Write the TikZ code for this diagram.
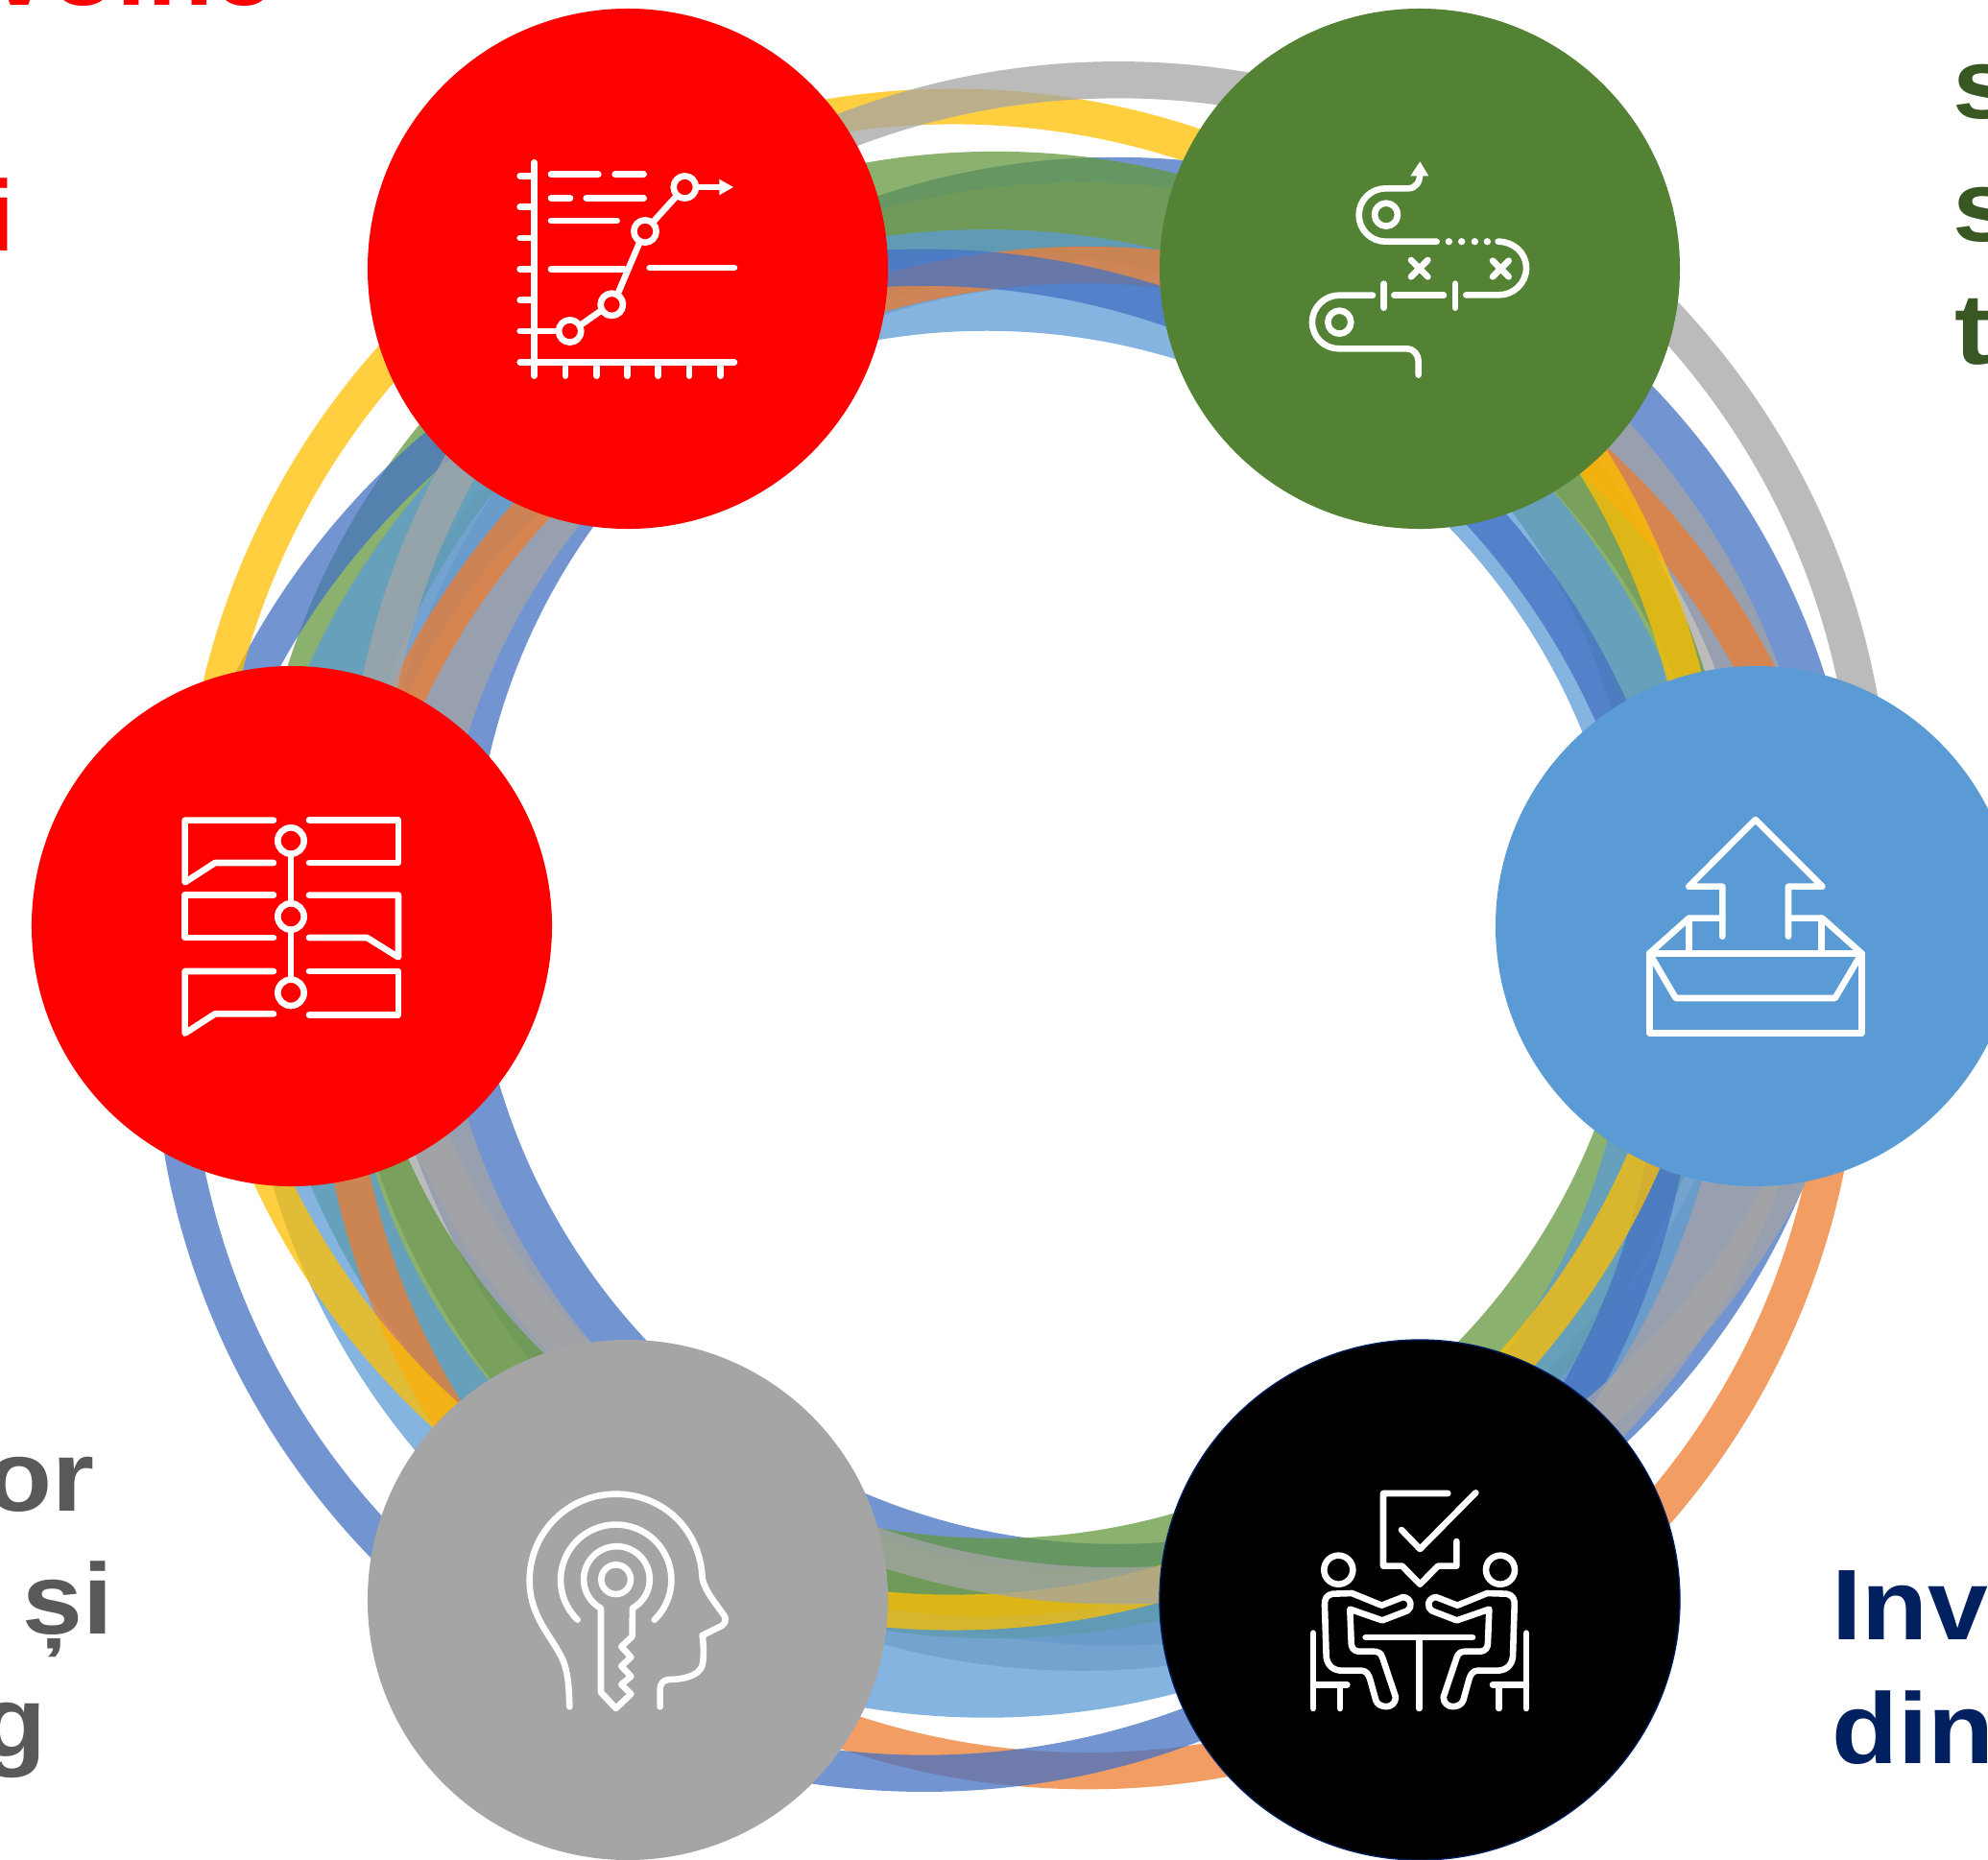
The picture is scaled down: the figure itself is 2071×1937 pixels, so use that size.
\documentclass[tikz,border=0pt]{standalone}
\usepackage{fontspec}
\setmainfont[FakeStretch=1.08]{Liberation Sans}
\definecolor{cred}{HTML}{FF0000}
\definecolor{cgreen}{HTML}{548235}
\definecolor{cblue}{HTML}{5B9BD5}
\definecolor{cgrey}{HTML}{A5A5A5}
\definecolor{cnavy}{HTML}{002060}
\definecolor{tgreen}{HTML}{385723}
\definecolor{tgrey}{HTML}{595959}
\definecolor{ryellow}{HTML}{FFC000}
\definecolor{rorange}{HTML}{ED7D31}
\definecolor{rblue}{HTML}{4472C4}
\definecolor{rgreen}{HTML}{63983D}
\tikzset{
  ring/.style={line width=#1*1.3208*1.138pt,opacity=.75},
  disc/.style={circle,minimum size=542*1.138pt,inner sep=0pt,outer sep=0pt},
  ico/.style={draw=white,line width=#1*1.138pt,line cap=round,line join=round},
  ico/.default=6.6,
  lab/.style={font=\fontsize{119}{140}\bfseries\selectfont,inner sep=0pt,outer sep=0pt},
  zoomed/.style={shift={#1},scale=0.33333}
}
\newcommand{\personoutline}{
  (199,440) -- (300,475) -- (378,445) .. controls (395,435) and (392,405) .. (365,402) -- (298,428) -- (205,390) -- (145,392) .. controls (125,395) and (118,410) .. (120,430) -- (125,590) .. controls (130,620) and (150,632) .. (175,632) -- (235,632) .. controls (250,632) and (258,645) .. (262,660) -- (280,725) .. controls (288,750) and (340,755) .. (342,715) -- (300,590) .. controls (295,575) and (285,572) .. (270,572) -- (225,572) .. controls (210,570) and (203,560) .. (203,545) -- cycle
}
\begin{document}
\begin{tikzpicture}[x=0.04cm,y=-0.04cm]
\useasboundingbox (0,0) rectangle (2071,1937);
\clip (0,0) rectangle (2071,1937);
\fill[white] (0,0) rectangle (2071,1937);
% rings
\begin{scope}[scale=1.3208]
\draw[ring=80,rblue] (880,711) circle (547);
\draw[ring=80,cgrey] (853,731) circle (547);
\draw[ring=79,rgreen] (785,706) circle (547);
\draw[ring=80,cblue] (778,768) circle (547);
\draw[ring=29,rorange] (858,803) circle (594);
\draw[ring=29,rblue] (729,805) circle (594);
\draw[ring=28,ryellow] (752,678) circle (594);
\draw[ring=29,cgrey] (882,657) circle (594);
\end{scope}
% discs
\node[disc,fill=cred] (n1) at (654,280) {};
\node[disc,fill=cgreen] (n2) at (1479,280) {};
\node[disc,fill=cblue] (n3) at (1829,965) {};
\node[disc,fill=black,draw=cnavy,line width=1.5pt] (n4) at (1479,1667) {};
\node[disc,fill=cgrey] (n5) at (654,1667) {};
\node[disc,fill=cred] (n6) at (304,965) {};
% labels
\node[lab,text=cred,anchor=base west] (t1) at (-10,5) {voine};
\node[lab,text=cred,anchor=base east] (t2) at (16,261) {i};
\node[lab,text=tgreen,anchor=base west] (t3) at (2034,123) {s};
\node[lab,text=tgreen,anchor=base west] (t4) at (2034,251) {s};
\node[lab,text=tgreen,anchor=base west] (t5) at (2036,379) {t};
\node[lab,text=tgrey,anchor=base east] (t6) at (98,1574) {or};
\node[lab,text=tgrey,anchor=base east] (t7) at (118,1702) {și};
\node[lab,text=tgrey,anchor=base east] (t8) at (48,1830) {g};
\node[lab,text=cnavy,anchor=base west] (t9) at (1908,1708) {Inv};
\node[lab,text=cnavy,anchor=base west] (t10) at (1908,1837) {din};
% icon 1
\begin{scope}[zoomed={(480,130)}]
\draw[ico] (230,118) -- (230,785);
\foreach \y in {160,257,354,451,548,645} \draw[ico] (185,\y) -- (230,\y);
\draw[ico] (185,742) -- (855,742);
\foreach \x in {327,424,520,617,714,812} \draw[ico] (\x,742) -- (\x,785);
\foreach \a/\b/\y in {282/430/155,482/572/155,282/342/229,392/572/229,282/488/300,282/510/451,590/855/447} \draw[ico] (\a,\y) -- (\b,\y);
\draw[ico] (230,645) -- (306,645);
\draw[ico] (376,625) -- (437,582);
\draw[ico] (490,530) -- (558,370);
\draw[ico] (600,305) -- (675,222);
\draw[ico] (745,195) -- (810,195);
\fill[white] (808,170) -- (852,195) -- (808,220) -- cycle;
\foreach \x/\y in {341/645,472/562,576/333,700/195} \draw[ico] (\x,\y) circle (35);
\end{scope}
% icon 2
\begin{scope}[zoomed={(1320,130)}]
\draw[ico] (530,365) -- (370,365) arc (90:270:83) -- (440,199) .. controls (465,199) and (478,180) .. (478,150);
\fill[white] (448,160) -- (478,115) -- (505,160) -- cycle;
\draw[ico] (372,281) circle (36);
\draw[ico] (226,617) circle (36);
\foreach \x in {568,608,649,688} \fill[white] (\x,365) circle (11);
\draw[ico] (722,365) .. controls (770,365) and (810,400) .. (810,448) .. controls (810,495) and (770,532) .. (725,532) -- (622,532);
\draw[ico] (450,423) -- (502,475) (502,423) -- (450,475);
\draw[ico] (705,425) -- (755,475) (755,425) -- (705,475);
\draw[ico] (365,497) -- (365,572);
\draw[ico] (588,497) -- (588,572);
\draw[ico] (397,533) -- (552,533);
\draw[ico] (330,533) -- (225,533) .. controls (180,533) and (141,570) .. (141,617) .. controls (141,665) and (180,700) .. (225,700) -- (435,700) .. controls (460,700) and (473,720) .. (473,740) -- (473,782);
\end{scope}
% icon 3
\begin{scope}[zoomed={(150,820)}]
\draw[ico] (405,104) -- (128,104) -- (128,298) -- (222,237) -- (405,237);
\draw[ico] (516,104) -- (795,104) -- (795,237) -- (516,237);
\draw[ico] (405,338) -- (128,338) -- (128,471) -- (405,471);
\draw[ico] (516,338) -- (795,338) -- (795,532) -- (697,471) -- (516,471);
\draw[ico] (405,576) -- (128,576) -- (128,770) -- (222,709) -- (405,709);
\draw[ico] (516,576) -- (795,576) -- (795,712) -- (516,712);
\foreach \y in {168,405,643} \draw[ico] (459,\y) circle (41);
\draw[ico] (459,209) -- (459,364) (459,446) -- (459,602);
\end{scope}
% icon 4
\begin{scope}[zoomed={(1680,830)}]
\draw[ico] (343,437) -- (343,281) -- (238,281) -- (446,72) -- (655,281) -- (549,281) -- (549,437);
\draw[ico] (115,490) rectangle (778,740);
\draw[ico] (115,490) -- (197,630) -- (695,630) -- (778,490);
\draw[ico] (115,490) -- (238,380) -- (343,380) (549,380) -- (655,380) -- (778,490);
\draw[ico] (238,380) -- (238,490) (653,380) -- (653,490);
\end{scope}
% icon 5
\begin{scope}[zoomed={(530,1530)}]
\draw[ico] (190,745) .. controls (188,680) and (185,630) .. (165,590) .. controls (130,520) and (65,460) .. (65,350) .. controls (65,200) and (185,80) .. (335,80) .. controls (480,80) and (600,190) .. (605,345) .. controls (615,385) and (645,420) .. (670,455) .. controls (685,475) and (675,490) .. (655,497) -- (605,522) .. controls (610,560) and (610,590) .. (605,615) .. controls (595,650) and (540,660) .. (500,660) .. controls (480,662) and (473,675) .. (473,690) -- (473,745);
\draw[ico] (215,473) arc (134:406:173);
\draw[ico] (335,347) circle (46);
\draw[ico] (288,437) arc (118.6:421.4:103) -- (386,525) -- (352,557) -- (382,590) -- (352,618) -- (382,650) -- (352,675) -- (382,705) -- (335,750) -- (288,700) -- cycle;
\end{scope}
% icon 6
\begin{scope}[zoomed={(1340,1530)}]
\draw[ico] (505,78) -- (303,78) -- (303,305) -- (362,305) -- (418,362) -- (474,305) -- (532,305) -- (532,228);
\draw[ico] (360,192) -- (418,252) -- (592,76);
\draw[ico] (163,317) circle (45) (669,317) circle (45);
\draw[ico] (84,515) -- (84,750) (84,676) -- (190,676) (168,676) -- (168,750);
\draw[ico] (750,515) -- (750,750) (750,676) -- (645,676) (665,676) -- (665,750);
\draw[ico] (248,528) -- (582,528) (415,528) -- (415,750);
\draw[ico] \personoutline;
\begin{scope}[shift={(833,0)},xscale=-1]
\draw[ico] \personoutline;
\end{scope}
\end{scope}
\end{tikzpicture}
\end{document}
